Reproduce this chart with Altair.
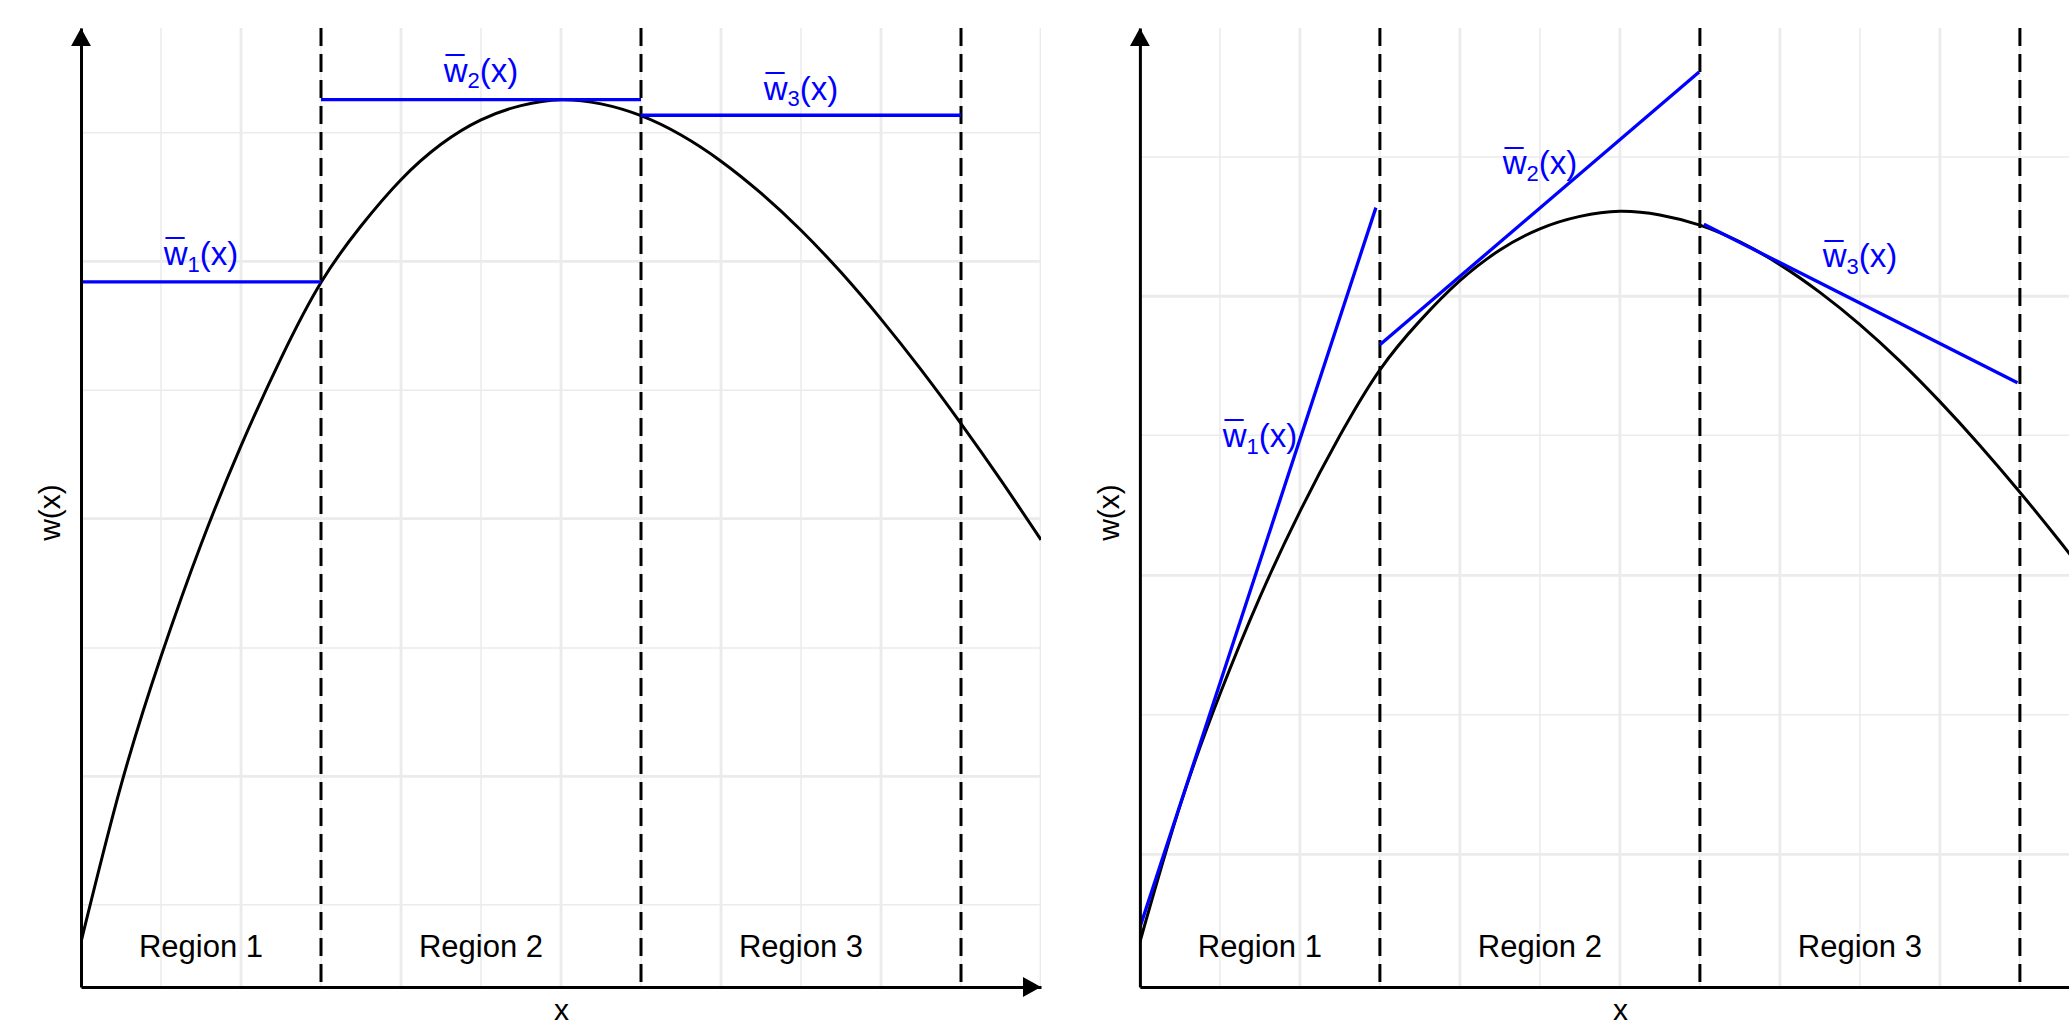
import altair as alt
import pandas as pd

FONT = "Liberation Sans"

# ---------------- data ----------------
# the curve w(x) (same function in both panels)
curve_x = [0, 0.5, 1, 1.5, 2, 2.5, 3, 3.5, 4, 4.5, 5, 5.5, 6,
           6.5, 7, 7.5, 8, 8.5, 9, 9.5, 10, 10.5, 11, 11.5, 12]
curve_w = [0, 1.86, 3.39, 4.72, 5.89, 6.93, 7.83, 8.50, 9.05, 9.47, 9.76, 9.93, 10.0,
           9.95, 9.81, 9.58, 9.27, 8.89, 8.45, 7.95, 7.395, 6.795, 6.155, 5.48, 4.775]

boundaries = [3, 7, 11]
region_names = ["Region 1", "Region 2", "Region 3"]
region_mid = [1.5, 5, 9]
region_y = [0, 0, 0]

# label pieces: w with overline, subscript index, "(x)"
label_base = ["w\u0305", "w\u0305", "w\u0305"]
label_sub = ["1", "2", "3"]
label_arg = ["(x)", "(x)", "(x)"]

# left panel: piecewise-constant upper bounds
flat_x1 = [0, 3, 7]
flat_x2 = [3, 7, 11]
flat_w = [7.836, 10.0, 9.815]
flat_label_w = [8.156, 10.33, 10.115]

# right panel: tangent-line upper bounds
tan_x1 = [0, 3.0, 7.05]
tan_x2 = [2.95, 6.99, 10.97]
tan_w1 = [0.2, 8.174, 9.822]
tan_w2 = [10.05, 11.906, 7.654]
tan_label_w = [6.91, 10.64, 9.37]

# grid positions
xgrid_major = [2, 4, 6, 8, 10, 12]
xgrid_minor = [1, 3, 5, 7, 9, 11]
left_ygrid_major = [1.967, 5.026, 8.081]
left_ygrid_minor = [0.443, 3.490, 6.550, 9.608]
right_ygrid_major = [1.200, 5.018, 8.837]
right_ygrid_minor = [3.110, 6.935, 10.743]

# axis domains
X_MAX_L = 12
X_MAX_R = 11.6125
Y_DOM_L = [-0.534, 10.851]
Y_DOM_R = [-0.616, 12.508]

PANEL_H = 959
W_LEFT = 960
W_RIGHT = 929

GRID_COLOR = "#EBEBEB"
BLUE = "#0000FF"
RIGHT_ARROW = "M0,0L-1,-0.55L-1,0.55Z"
UP_ARROW = "M0,0L-0.55,1L0.55,1Z"
ARROW_SIZE = 1300

LABEL_FS = 33
SUB_FS = 22

X_AXIS = alt.Axis(
    title="x", grid=False, ticks=False, labels=False, domain=True,
    domainColor="black", domainWidth=3, zindex=1,
    titleFont=FONT, titleFontSize=30, titleFontWeight="normal",
    titleColor="black", titleX=480, titleY=32,
    titleAlign="center", titleBaseline="alphabetic")
Y_AXIS = alt.Axis(
    title="w(x)", grid=False, ticks=False, labels=False, domain=True,
    domainColor="black", domainWidth=3, zindex=1,
    titleFont=FONT, titleFontSize=30, titleFontWeight="normal",
    titleColor="black", titleAngle=270, titleX=-30.7, titleY=484,
    titleAlign="center", titleBaseline="middle")


def panel(width, xmax, ydom, seg_df, label_w, ygrid_major, ygrid_minor, x_arrow):
    xs = alt.Scale(domain=[0, xmax], nice=False, zero=False)
    ys = alt.Scale(domain=ydom, nice=False, zero=False)

    def X(field):
        return alt.X(field, scale=xs, axis=X_AXIS)

    def Y(field):
        return alt.Y(field, scale=ys, axis=Y_AXIS)

    ygrid = pd.DataFrame({
        "g": ygrid_major + ygrid_minor,
        "wd": [2.8] * len(ygrid_major) + [1.5] * len(ygrid_minor),
    })
    xgrid = pd.DataFrame({
        "g": xgrid_major + xgrid_minor,
        "wd": [2.8] * len(xgrid_major) + [1.5] * len(xgrid_minor),
    })
    curve = pd.DataFrame({"x": curve_x, "w": curve_w})
    dashed = pd.DataFrame({"b": boundaries})
    regions = pd.DataFrame({"name": region_names, "xm": region_mid, "yr": region_y})
    labels = pd.DataFrame({"base": label_base, "sub": label_sub, "arg": label_arg,
                           "xm": region_mid, "yl": label_w})

    ygrid_layer = alt.Chart(ygrid).mark_rule(color=GRID_COLOR, clip=True).encode(
        y=Y("g:Q"),
        strokeWidth=alt.StrokeWidth("wd:Q", scale=None, legend=None),
    )
    xgrid_layer = alt.Chart(xgrid).transform_filter(
        alt.datum.g <= xmax
    ).mark_rule(color=GRID_COLOR, clip=True).encode(
        x=X("g:Q"),
        strokeWidth=alt.StrokeWidth("wd:Q", scale=None, legend=None),
    )
    dashed_layer = alt.Chart(dashed).mark_rule(
        color="black", strokeWidth=3, strokeDash=[18, 8]
    ).encode(x=X("b:Q"))

    curve_layer = alt.Chart(curve).mark_line(
        color="black", strokeWidth=3, interpolate="natural", clip=True
    ).encode(x=X("x:Q"), y=Y("w:Q"), order="x:Q")

    seg_layer = alt.Chart(seg_df).mark_rule(
        color=BLUE, strokeWidth=3.3, clip=True
    ).encode(x=X("x1:Q"), x2="x2:Q", y=Y("y1:Q"), y2="y2:Q")

    # label assembled from three pieces (w-bar, subscript, "(x)")
    w_width = 0.722 * LABEL_FS
    sub_width = 0.556 * SUB_FS
    arg_width = 1.166 * LABEL_FS
    start = -(w_width + sub_width + arg_width) / 2
    lab_base = alt.Chart(labels).mark_text(
        font=FONT, fontSize=LABEL_FS, color=BLUE, align="left", baseline="middle",
        dx=start
    ).encode(x=X("xm:Q"), y=Y("yl:Q"), text="base:N")
    lab_sub = alt.Chart(labels).mark_text(
        font=FONT, fontSize=SUB_FS, color=BLUE, align="left", baseline="middle",
        dx=start + w_width, dy=9.5
    ).encode(x=X("xm:Q"), y=Y("yl:Q"), text="sub:N")
    lab_arg = alt.Chart(labels).mark_text(
        font=FONT, fontSize=LABEL_FS, color=BLUE, align="left", baseline="middle",
        dx=start + w_width + sub_width
    ).encode(x=X("xm:Q"), y=Y("yl:Q"), text="arg:N")

    region_layer = alt.Chart(regions).mark_text(
        font=FONT, fontSize=31, color="black", align="center",
        baseline="alphabetic", dy=15
    ).encode(x=X("xm:Q"), y=Y("yr:Q"), text="name:N")

    up = pd.DataFrame({"ax": [0], "ay": [ydom[1]]})
    up_layer = alt.Chart(up).mark_point(
        shape=UP_ARROW, filled=True, size=ARROW_SIZE, color="black", opacity=1,
        strokeWidth=0
    ).encode(x=X("ax:Q"), y=Y("ay:Q"))

    layers = [ygrid_layer, xgrid_layer, dashed_layer, curve_layer, seg_layer,
              lab_base, lab_sub, lab_arg, region_layer, up_layer]

    if x_arrow:
        rt = pd.DataFrame({"ax": [xmax], "ay": [ydom[0]]})
        layers.append(alt.Chart(rt).mark_point(
            shape=RIGHT_ARROW, filled=True, size=ARROW_SIZE, color="black",
            opacity=1, strokeWidth=0
        ).encode(x=X("ax:Q"), y=Y("ay:Q")))

    return alt.layer(*layers).properties(width=width, height=PANEL_H)


left_segs = pd.DataFrame({"x1": flat_x1, "x2": flat_x2, "y1": flat_w, "y2": flat_w})
right_segs = pd.DataFrame({"x1": tan_x1, "x2": tan_x2, "y1": tan_w1, "y2": tan_w2})

left = panel(W_LEFT, X_MAX_L, Y_DOM_L, left_segs, flat_label_w,
             left_ygrid_major, left_ygrid_minor, True)
right = panel(W_RIGHT, X_MAX_R, Y_DOM_R, right_segs, tan_label_w,
              right_ygrid_major, right_ygrid_minor, False)

chart = alt.hconcat(left, right, spacing=52.9).properties(
    padding={"left": 35, "top": 26, "right": 0, "bottom": 0},
    background="white",
).configure_view(stroke=None)

chart.save("out.html", embed_options={"renderer": "svg", "actions": False})
